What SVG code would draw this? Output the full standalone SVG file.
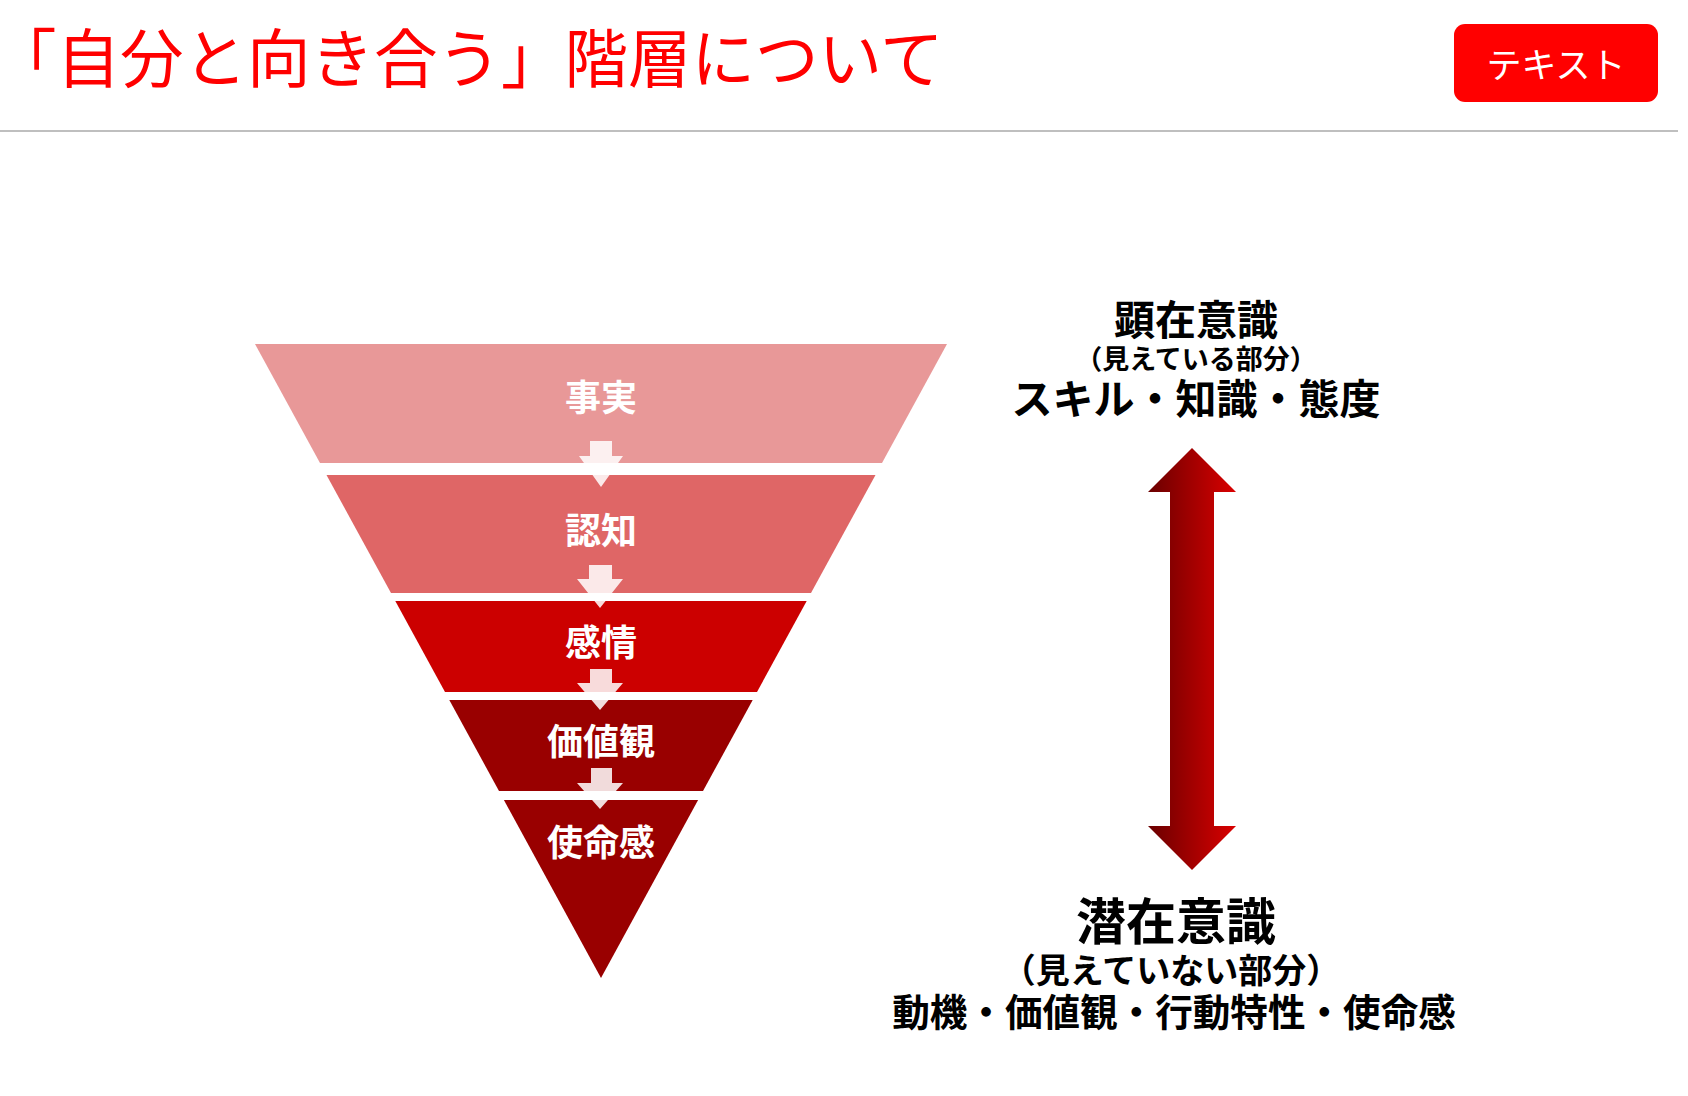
<svg xmlns="http://www.w3.org/2000/svg" width="1688" height="1096" viewBox="0 0 1688 1096">
  <defs>
    <style>
      .jp { font-family: "Noto Sans CJK JP", "Liberation Sans", sans-serif; }
      .title { font-size: 63.5px; fill: #FF0000; font-weight: 400; }
      .btn-text { font-size: 35px; fill: #FFFFFF; font-weight: 400; }
      .layer-text { font-size: 36px; fill: #FFFFFF; font-weight: 700; text-anchor: middle; }
      .side { fill: #000000; font-weight: 700; text-anchor: middle; }
      .flow { fill: #FFFFFF; fill-opacity: 0.86; }
    </style>
    <linearGradient id="dblGrad" gradientUnits="userSpaceOnUse" x1="1148" y1="0" x2="1236" y2="0">
      <stop offset="0" stop-color="#6A0000"/>
      <stop offset="1" stop-color="#DA0000"/>
    </linearGradient>
  </defs>

  <rect x="0" y="0" width="1688" height="1096" fill="#FFFFFF"/>

  <g id="header">
    <text class="jp title" x="-7" y="82">「自分と向き合う」階層について</text>
    <line x1="0" y1="131" x2="1678" y2="131" stroke="#BFBFBF" stroke-width="2"/>
  </g>

  <g id="button">
    <rect x="1454" y="24" width="204" height="78" rx="11" ry="11" fill="#FF0000"/>
    <text class="jp btn-text" x="1556" y="78" text-anchor="middle">テキスト</text>
  </g>

  <g id="layer-fact">
    <polygon points="255,344 947,344 882,463 320,463" fill="#E89898"/>
    <text class="jp layer-text" x="601" y="411">事実</text>
  </g>
  <g id="layer-cognition">
    <polygon points="326.5,475 875.5,475 811,593 391,593" fill="#DF6666"/>
    <text class="jp layer-text" x="601" y="544">認知</text>
  </g>
  <g id="layer-emotion">
    <polygon points="395.3,601 806.7,601 757,692 445,692" fill="#CC0000"/>
    <text class="jp layer-text" x="601" y="656">感情</text>
  </g>
  <g id="layer-values">
    <polygon points="449.3,700 752.7,700 703,791 499,791" fill="#990000"/>
    <text class="jp layer-text" x="601" y="755">価値観</text>
  </g>
  <g id="layer-mission">
    <polygon points="503.9,800 698.1,800 601,978" fill="#990000"/>
    <text class="jp layer-text" x="601" y="856">使命感</text>
  </g>

  <g id="connectors">
    <polygon class="flow" points="590,441 612,441 612,456 623,456 601,487 579,456 590,456"/>
    <polygon class="flow" points="589,565 612,565 612,579 623,579 600,608 577,579 589,579"/>
    <polygon class="flow" points="590,669 612,669 612,683 623,683 600,710 577,683 590,683"/>
    <polygon class="flow" points="591,768 612,768 612,783 623,783 600,809 577,783 591,783"/>
    <polygon id="double-arrow" points="1192,448 1236,492 1214,492 1214,826 1236,826 1192,870 1148,826 1170,826 1170,492 1148,492" fill="url(#dblGrad)"/>
  </g>

  <g id="conscious">
    <text class="jp side" x="1196" y="335" font-size="41">顕在意識</text>
    <text class="jp side" x="1196" y="369" font-size="27">（見えている部分）</text>
    <text class="jp side" x="1196" y="414" font-size="41">スキル・知識・態度</text>
  </g>

  <g id="subconscious">
    <text class="jp side" x="1176" y="940" font-size="50">潜在意識</text>
    <text class="jp side" x="1171" y="983" font-size="34">（見えていない部分）</text>
    <text class="jp side" x="1174" y="1026" font-size="37.6">動機・価値観・行動特性・使命感</text>
  </g>
</svg>
